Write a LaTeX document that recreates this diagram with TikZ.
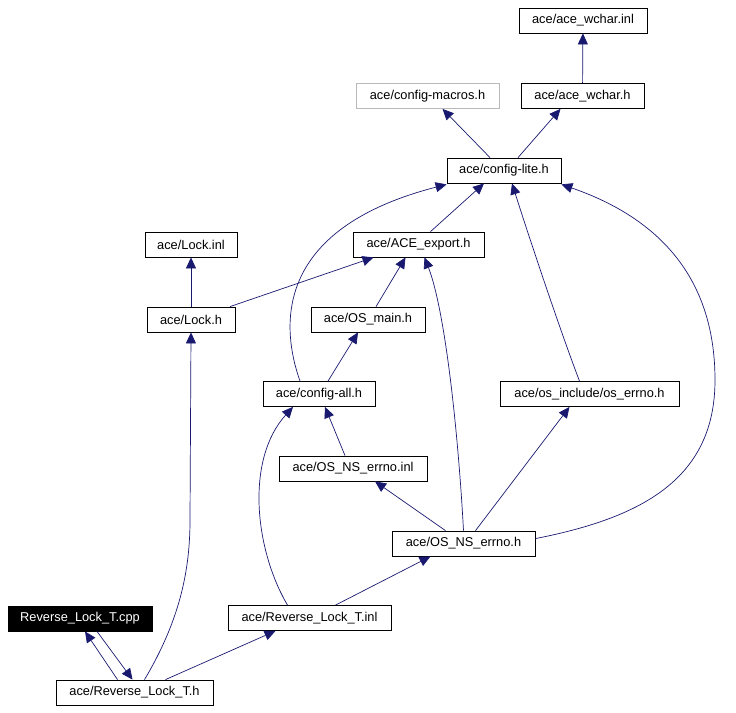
\documentclass[tikz,border=0pt]{standalone}
\usepackage{fontspec}
\setmainfont{Liberation Sans}
\usepackage{xcolor}
\usepackage{tikz}
\usetikzlibrary{arrows.meta,calc}

\definecolor{edgeblue}{HTML}{191970}

\begin{document}
\begin{tikzpicture}[
  x=1pt, y=-1pt,
  box/.style={rectangle, draw, line width=0.8pt, minimum height=25pt, inner xsep=4pt, align=center, font=\fontsize{12.8}{14}\selectfont},
  cur/.style={box, fill=black, text=white},
  ext/.style={box, draw=gray!55},
  arrow/.style={-{Triangle[length=11pt, width=10pt]}, edgeblue, line width=0.7pt}
]
\useasboundingbox (0,0) rectangle (736,712);

% Headers
\node[box, minimum width=128pt] (wcharinl) at (583,20.5) {ace/ace\_wchar.inl};
\node[ext, minimum width=143pt] (macros) at (427.5,96) {ace/config-macros.h};
\node[box, minimum width=123pt] (wchar) at (582.5,96) {ace/ace\_wchar.h};
\node[box, minimum width=114pt] (lite) at (504,170.5) {ace/config-lite.h};
\node[box, minimum width=92pt] (lockinl) at (191,244.5) {ace/Lock.inl};
\node[box, minimum width=131pt] (export) at (418.5,244.5) {ace/ACE\_export.h};
\node[box, minimum width=88pt] (lockh) at (191,319.5) {ace/Lock.h};
\node[box, minimum width=114pt] (osmain) at (368,319.5) {ace/OS\_main.h};
\node[box, minimum width=112pt] (cfgall) at (319,394) {ace/config-all.h};
\node[box, minimum width=179pt] (oserrno) at (589.5,394) {ace/os\_include/os\_errno.h};
\node[box, minimum width=148pt] (nsinl) at (353,468.5) {ace/OS\_NS\_errno.inl};
\node[box, minimum width=143pt] (nsh) at (463.5,543.5) {ace/OS\_NS\_errno.h};

% Reverse lock files
\node[cur, minimum width=144pt] (cpp) at (80,618.5) {Reverse\_Lock\_T.cpp};
\node[box, minimum width=163pt] (rinl) at (309.5,618) {ace/Reverse\_Lock\_T.inl};
\node[box, minimum width=157pt] (rh) at (134.5,692.5) {ace/Reverse\_Lock\_T.h};

% Arrows
\draw[arrow] (wchar) -- (wcharinl);
\draw[arrow] ([xshift=-14pt]lite.north) -- ([xshift=15pt]macros.south);
\draw[arrow] ([xshift=14pt]lite.north) -- ([xshift=-22pt]wchar.south);
\draw[arrow] ([xshift=12pt]export.north) -- ([xshift=-20pt]lite.south);
\draw[arrow] ([xshift=-19pt]cfgall.north) .. controls (282,330) and (270,230) .. ([yshift=-1pt]lite.south west);
\draw[arrow] ([xshift=-10pt]oserrno.north) .. controls (560,330) and (530,240) .. ([xshift=8pt]lite.south);
\draw[arrow] ([yshift=-8pt]nsh.north east) .. controls (640,518) and (715,480) .. (715,380)
  .. controls (715,270) and (650,215) .. ([yshift=-1pt]lite.south east);
\draw[arrow] (lockh) -- (lockinl);
\draw[arrow] ([xshift=39pt]lockh.north) -- ([xshift=-45pt]export.south);
\draw[arrow] ([xshift=8pt]osmain.north) -- ([xshift=-13pt]export.south);
\draw[arrow] (nsh.north) .. controls (458,430) and (445,310) .. ([xshift=6pt]export.south);
\draw[arrow] ([xshift=9pt]cfgall.north) -- ([xshift=-10pt]osmain.south);
\draw[arrow] ([xshift=-8pt]nsinl.north) -- ([xshift=6pt]cfgall.south);
\draw[arrow] ([xshift=-22pt]rinl.north) .. controls (255,550) and (245,460) .. ([xshift=-26pt]cfgall.south);
\draw[arrow] ([xshift=-18pt]nsh.north) -- ([xshift=22pt]nsinl.south);
\draw[arrow] ([xshift=12pt]nsh.north) -- ([xshift=-20pt]oserrno.south);
\draw[arrow] ([xshift=26pt]rinl.north) -- ([xshift=-33pt]nsh.south);
\draw[arrow] ([xshift=10pt]rh.north) .. controls (180,620) and (190,570) .. (190,520) -- (lockh.south);
\draw[arrow] ([xshift=31pt]rh.north) -- ([xshift=-34pt]rinl.south);
\draw[arrow] ([xshift=-17pt]rh.north) -- ([xshift=5pt]cpp.south);
\draw[arrow] ([xshift=17pt]cpp.south) -- ([xshift=-2pt]rh.north);

\end{tikzpicture}
\end{document}
